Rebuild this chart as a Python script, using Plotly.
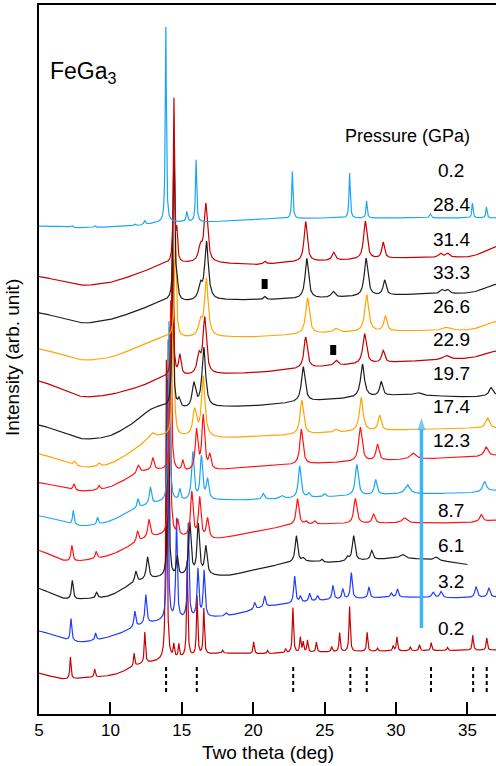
import numpy as np
import plotly.graph_objects as go

# ---------------- data ----------------
# heights are in arbitrary intensity units (stack offset included)
labels = ["0.2", "3.2", "6.1", "8.7", "12.3", "17.4", "19.7", "22.9",
          "26.6", "33.3", "31.4", "28.4", "0.2"]
colors = ["#c80000", "#1f3cff", "#1e1e1e", "#ff1414", "#1aa6f5", "#ff1414",
          "#ffa500", "#1e1e1e", "#c80000", "#ffa500", "#1e1e1e", "#c80000", "#1aa6f5"]
x_end = [37, 37, 35, 37, 37, 37, 37, 37, 37, 37, 37, 37, 37]

# baselines: knots (two theta) and level
base_x = [
    [5, 6.5, 8, 10, 11, 11.3, 12, 13.5, 17.5, 20, 25, 30, 37],
    [5, 6.9, 8, 10, 11, 11.5, 13, 17.2, 18, 19.5, 21, 22.5, 25, 30, 35, 37],
    [5, 6.7, 8.1, 10, 11, 11.5, 13, 17.2, 18, 20, 22.7, 24, 25, 26, 30, 33, 35],
    [5, 6.7, 8, 10, 11.5, 12.5, 13.5, 17.2, 18.6, 20.9, 22.5, 25, 30, 35, 37],
    [5, 8, 10, 11.5, 12.3, 13.5, 17.5, 20, 25, 30, 35.5, 37],
    [5, 8, 10, 11.5, 12.5, 13.5, 15.5, 17.5, 20, 25, 30, 35.5, 37],
    [5, 8, 10, 12, 12.8, 13.8, 15.5, 17.5, 20, 25, 30, 35.5, 37],
    [5, 8, 10, 12, 12.8, 13.5, 15.5, 17.5, 20, 25, 30, 35.5, 37],
    [5, 8, 10, 12.5, 13.5, 15.5, 17.5, 20, 25.3, 30, 35.5, 37],
    [5, 8, 10, 12.5, 13.5, 15.5, 17.5, 20, 25, 30, 35.5, 37],
    [5, 8, 10, 12.5, 13.5, 15.2, 17.5, 20, 25, 30, 35.5, 37],
    [5, 8, 10, 12.5, 13.5, 15.2, 17.5, 20, 23, 30, 35.5, 37],
    [5, 8, 12, 13.5, 17, 20, 25, 30, 37],
]
base_y = [
    [42, 34, 36, 38, 42, 46, 50, 53, 61, 60, 62, 63, 64],
    [84, 74, 71, 77, 82, 86, 92, 97, 97, 102, 108, 110, 114, 117, 116, 117],
    [127, 114, 115, 117, 126, 131, 136, 139, 137, 144, 152, 153, 151, 152, 156, 154, 149],
    [165, 152, 153, 158, 169, 176, 179, 174, 178, 184, 189, 190, 191, 191, 194],
    [199, 187, 192, 204, 208, 212, 214, 214, 217, 220, 221, 224],
    [232, 222, 226, 238, 244, 244, 242, 244, 247, 251, 254, 257, 259],
    [261, 246, 249, 267, 277, 279, 277, 276, 277, 281, 284, 286, 286],
    [290, 274, 277, 294, 307, 308, 304, 307, 308, 314, 319, 317, 319],
    [334, 316, 319, 329, 337, 338, 340, 341, 348, 352, 356, 364],
    [366, 353, 356, 370, 378, 376, 377, 377, 381, 383, 384, 394],
    [402, 390, 394, 406, 414, 412, 414, 414, 416, 419, 421, 431],
    [438, 428, 431, 443, 450, 451, 451, 449, 452, 456, 457, 469],
    [488, 486, 488, 492, 492, 495, 496, 496, 496],
]

# diffraction peaks: position (deg), intensity, FWHM (deg)
peak_pos = [
    [7.2, 8.9, 11.66, 12.41, 13.92, 14.44, 14.79, 15.38, 16.07, 16.54, 17.85, 20.03, 21.0, 22.27,
     22.78, 23.3, 23.5, 23.8, 24.42, 25.5, 26.05, 26.75, 27.98, 28.7, 29.8, 30.06, 31.0, 31.64,
     32.46, 33.6, 35.37, 36.35],
    [7.24, 8.96, 11.71, 12.48, 14.0, 14.63, 15.45, 16.13, 16.56, 18.1, 20.1, 20.8, 22.9, 23.3,
     23.95, 24.5, 25.58, 26.27, 26.87, 28.1, 29.66, 30.1, 32.6, 33.15, 35.6, 36.5],
    [7.33, 9.03, 11.78, 12.6, 14.05, 14.68, 15.56, 16.15, 16.68, 23.02, 23.5, 24.8, 26.6, 27.03,
     28.3, 30.45, 32.8],
    [7.3, 9.0, 11.9, 12.7, 14.15, 14.72, 15.7, 16.25, 16.8, 23.1, 23.7, 24.3, 27.15, 28.43,
     30.6, 35.96],
    [7.4, 9.1, 11.93, 12.8, 14.1, 14.86, 15.77, 16.37, 16.8, 20.7, 22.0, 23.25, 23.9, 25.0,
     27.25, 28.57, 30.8, 36.2],
    [7.45, 9.2, 11.95, 12.97, 14.22, 15.07, 16.03, 16.5, 16.96, 23.37, 27.5, 28.7, 31.2, 36.3],
    [7.5, 9.2, 12.9, 14.4, 15.9, 16.5, 23.4, 25.8, 27.56, 28.85, 36.4],
    [14.35, 14.8, 15.85, 16.54, 23.5, 27.65, 28.96, 31.5, 36.65],
    [14.35, 14.86, 16.2, 16.6, 23.67, 25.8, 27.8, 29.1, 33.5],
    [14.55, 16.3, 16.72, 23.8, 25.8, 27.95, 29.25, 33.5],
    [14.45, 14.65, 16.3, 16.73, 20.8, 23.75, 25.6, 27.9, 29.2, 33.2, 33.6],
    [14.45, 14.65, 16.3, 16.68, 20.8, 23.67, 25.63, 27.85, 29.1, 33.1, 33.6],
    [7.3, 8.9, 11.7, 12.4, 13.88, 15.35, 16.0, 22.74, 26.75, 27.94, 32.4, 35.35, 36.33],
]
peak_int = [
    [22, 8, 13, 31, 300, 13, 13, 95, 59, 46, 3, 12, 3, 4, 45, 15, 10, 12, 10, 5, 19, 45, 19, 3,
     5, 14, 4, 6, 8, 3, 15, 12],
    [22, 7, 16, 29, 240, 100, 95, 48, 46, 3, 7, 11, 27, 6, 8, 5, 14, 10, 26, 11, 4, 8, 5, 6, 11, 9],
    [19, 6, 11, 22, 237, 19, 52, 50, 28, 26, 3, 3, 4, 25, 9, 4, 3],
    [16, 7, 11, 18, 208, 15, 45, 40, 20, 26, 3, 3, 25, 9, 5, 7],
    [14, 7, 9, 17, 180, 11, 48, 43, 20, 6, 3, 32, 4, 3, 31, 15, 9, 10],
    [6, 4, 8, 12, 170, 10, 40, 54, 14, 35, 34, 16, 6, 9],
    [4, 3, 5, 176, 26, 60, 34, 3, 34, 15, 10],
    [158, 8, 24, 60, 35, 33, 14, 3, 8],
    [146, 20, 18, 56, 31, 5, 30, 12, 4],
    [104, 14, 58, 36, 4, 37, 15, 3],
    [158, 20, 14, 58, 3, 40, 6, 38, 15, 4, 4],
    [163, 28, 14, 58, 3, 40, 8, 38, 16, 4, 4],
    [2, 2, 2, 4, 195, 10, 62, 47, 45, 17, 4, 15, 11],
]
peak_fwhm = [
    [0.1] * 32,
    [0.12, 0.12, 0.15, 0.15, 0.1, 0.12, 0.12, 0.15, 0.15, 0.2, 0.15, 0.15, 0.15, 0.15, 0.15,
     0.15, 0.15, 0.15, 0.15, 0.15, 0.15, 0.15, 0.2, 0.2, 0.2, 0.2],
    [0.15, 0.15, 0.18, 0.2, 0.1, 0.15, 0.2, 0.2, 0.2, 0.2, 0.2, 0.2, 0.2, 0.22, 0.2, 0.4, 0.3],
    [0.15, 0.15, 0.18, 0.2, 0.12, 0.15, 0.2, 0.2, 0.2, 0.22, 0.2, 0.2, 0.25, 0.22, 0.4, 0.25],
    [0.12, 0.12, 0.15, 0.18, 0.12, 0.15, 0.2, 0.2, 0.2, 0.2, 0.3, 0.22, 0.2, 0.2, 0.25, 0.22,
     0.4, 0.3],
    [0.15, 0.15, 0.25, 0.2, 0.12, 0.15, 0.22, 0.22, 0.2, 0.25, 0.28, 0.25, 0.5, 0.3],
    [0.2, 0.2, 0.4, 0.12, 0.3, 0.28, 0.28, 0.3, 0.3, 0.25, 0.3],
    [0.12, 0.2, 0.3, 0.3, 0.3, 0.32, 0.25, 0.6, 0.3],
    [0.12, 0.2, 0.3, 0.28, 0.28, 0.3, 0.3, 0.25, 0.5],
    [0.14, 0.3, 0.3, 0.3, 0.4, 0.32, 0.25, 0.6],
    [0.12, 0.15, 0.3, 0.3, 0.2, 0.28, 0.3, 0.3, 0.25, 0.3, 0.3],
    [0.1, 0.12, 0.3, 0.28, 0.2, 0.26, 0.25, 0.28, 0.22, 0.3, 0.3],
    [0.15, 0.15, 0.15, 0.15, 0.09, 0.12, 0.1, 0.1, 0.1, 0.1, 0.15, 0.1, 0.1],
]

# label placement (two theta, level) for each pattern
label_x = 33.85
label_y = [86, 133, 169, 204, 274, 308, 341, 375, 408, 442, 475, 510, 544]

# reference reflection positions (dashed ticks) and their vertical extent
ref_pos = [13.9, 16.05, 22.8, 26.8, 27.95, 32.45, 35.4, 36.35]
ref_y = [22, 50]

# impurity markers
imp_x = [20.8, 25.6]
imp_y = [430, 364]

# pressure-direction arrow
arrow_x = [31.78, 31.78]
arrow_y = [86, 296]

x_ticks = [5, 10, 15, 20, 25, 30, 35]
x_range = [5, 37]
y_range = [0, 709]

FONT = "Liberation Sans, Arial, sans-serif"

# ---------------- figure ----------------
fig = go.Figure()

step = 0.01
kernel_x = np.arange(-1.5, 1.5 + step / 2, step)
kernel = np.exp(-0.5 * (kernel_x / 0.5) ** 2)
kernel /= kernel.sum()
npad = len(kernel_x) // 2

for i in range(len(labels)):
    x = np.arange(5.0, x_end[i] + step / 2, step)
    b = np.interp(x, base_x[i], base_y[i])
    # gentle smoothing of the baseline (edge-padded)
    bp = np.concatenate([np.full(npad, b[0]), b, np.full(npad, b[-1])])
    y = np.convolve(bp, kernel, mode="same")[npad:npad + len(x)]
    for p, h, w in zip(peak_pos[i], peak_int[i], peak_fwhm[i]):
        y = y + h / (1.0 + ((x - p) / (w / 2.0)) ** 2)
    fig.add_trace(go.Scatter(x=x, y=y, mode="lines",
                             line=dict(color=colors[i], width=1.2),
                             hoverinfo="skip", showlegend=False))

# dashed reference ticks
dx, dy = [], []
for p in ref_pos:
    dx += [p, p, None]
    dy += [ref_y[0], ref_y[1], None]
fig.add_trace(go.Scatter(x=dx, y=dy, mode="lines",
                         line=dict(color="black", width=2, dash="4px,3px"),
                         hoverinfo="skip", showlegend=False))

# impurity markers (small black bars)
mx, my = [], []
for a, b in zip(imp_x, imp_y):
    mx += [a, a, None]
    my += [b - 5, b + 5, None]
fig.add_trace(go.Scatter(x=mx, y=my, mode="lines",
                         line=dict(color="black", width=6),
                         hoverinfo="skip", showlegend=False))

# pressure arrow
fig.add_trace(go.Scatter(x=arrow_x, y=arrow_y, mode="lines+markers",
                         line=dict(color="#3cb4f5", width=3.5),
                         marker=dict(symbol="arrow", size=[0, 13], angleref="previous",
                                     color="#3cb4f5", line=dict(width=0)),
                         hoverinfo="skip", showlegend=False))

annotations = []
for lab, ly in zip(labels, label_y):
    annotations.append(dict(x=label_x, y=ly, xref="x", yref="y", text=lab,
                            showarrow=False, font=dict(family=FONT, size=19, color="black"),
                            xanchor="center", yanchor="middle"))
annotations.append(dict(x=30.8, y=578, xref="x", yref="y", text="Pressure (GPa)",
                        showarrow=False, font=dict(family=FONT, size=18, color="black"),
                        xanchor="center", yanchor="middle"))
annotations.append(dict(x=5.6, y=642, xref="x", yref="y", text="FeGa<sub>3</sub>",
                        showarrow=False, font=dict(family=FONT, size=23, color="black"),
                        xanchor="left", yanchor="middle"))
annotations.append(dict(x=0.5, y=-0.0536, xref="paper", yref="paper",
                        text="Two theta (deg)", showarrow=False,
                        font=dict(family=FONT, size=19, color="black"),
                        xanchor="center", yanchor="middle"))
annotations.append(dict(x=-0.059, y=0.502, xref="paper", yref="paper",
                        text="Intensity (arb. unit)", showarrow=False, textangle=-90,
                        font=dict(family=FONT, size=19, color="black"),
                        xanchor="center", yanchor="middle"))

fig.update_layout(
    width=496, height=766,
    margin=dict(l=39, r=0, t=5, b=52),
    paper_bgcolor="white", plot_bgcolor="white",
    annotations=annotations,
    xaxis=dict(range=x_range, tickvals=x_ticks, ticks="inside", ticklen=12,
               tickwidth=1.5, tickcolor="black", showline=True, linecolor="black",
               linewidth=2, mirror=True, showgrid=False, zeroline=False,
               tickfont=dict(family=FONT, size=17, color="black")),
    yaxis=dict(range=y_range, showticklabels=False, ticks="", showline=True,
               linecolor="black", linewidth=2, showgrid=False, zeroline=False),
)

fig.write_html("out.html",
               config={"displayModeBar": False},
               post_script="document.body.style.margin='0px';"
                           "document.body.style.overflow='hidden';")
